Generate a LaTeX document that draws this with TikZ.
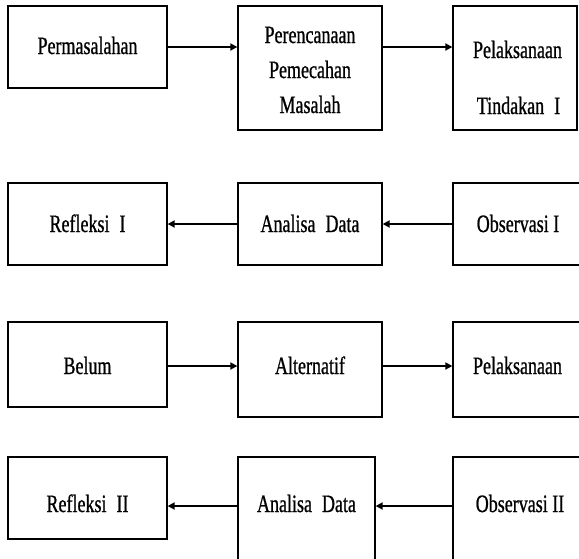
\documentclass[tikz,border=0pt]{standalone}
\usepackage{fontspec}
\setmainfont[FakeStretch=0.72,FakeBold=0.8]{Liberation Serif}
\usetikzlibrary{arrows.meta}
\begin{document}
\begin{tikzpicture}[x=1pt,y=-1pt,
  box/.style={draw=black, line width=1.3pt, rectangle, inner sep=0pt},
  lbl/.style={anchor=base, inner sep=0pt, font=\fontsize{25}{35}\selectfont},
  arr/.style={line width=2.2pt, -{Triangle[length=7pt,width=7pt]}}]
\useasboundingbox (0,0) rectangle (579,558);
\clip (0,0) rectangle (579,558);
% row 1
\node[box, minimum width=159, minimum height=82]  (A) at (87.5,47) {};
\node[box, minimum width=144, minimum height=124] (B) at (310,68) {};
\node[box, minimum width=124, minimum height=124] (C) at (515,68) {};
% row 2
\node[box, minimum width=159, minimum height=82] (D) at (87.5,224) {};
\node[box, minimum width=144, minimum height=82] (E) at (310,224) {};
\node[box, minimum width=147, minimum height=82] (F) at (526.5,224) {};
% row 3
\node[box, minimum width=159, minimum height=85] (G) at (87.5,364.5) {};
\node[box, minimum width=144, minimum height=95] (H) at (310,369.5) {};
\node[box, minimum width=147, minimum height=95] (I) at (526.5,369.5) {};
% row 4
\node[box, minimum width=159, minimum height=82]  (J) at (87.5,498) {};
\node[box, minimum width=137, minimum height=123] (K) at (306.5,518.5) {};
\node[box, minimum width=147, minimum height=123] (L) at (526.5,518.5) {};
% texts
\node[lbl] (tA) at (87.5,54) {Permasalahan};
\node[lbl] (tB1) at (310,43) {Perencanaan};
\node[lbl] (tB2) at (310,78) {Pemecahan};
\node[lbl] (tB3) at (310,113) {Masalah};
\node[lbl] (tC1) at (517.5,58) {Pelaksanaan};
\node[lbl] (tC2) at (518.5,114) {Tindakan\hspace{0.4em}I};
\node[lbl] (tD) at (87.5,232) {Refleksi\hspace{0.4em}I};
\node[lbl] (tE) at (310,232) {Analisa\hspace{0.4em}Data};
\node[lbl] (tF) at (518,232) {Observasi I};
\node[lbl] (tG) at (87.5,374) {Belum};
\node[lbl] (tH) at (310,374) {Alternatif};
\node[lbl] (tI) at (517.5,374) {Pelaksanaan};
\node[lbl] (tJ) at (87.5,512) {Refleksi\hspace{0.4em}II};
\node[lbl] (tK) at (306.5,512) {Analisa\hspace{0.4em}Data};
\node[lbl] (tL) at (520,512) {Observasi II};
% row coordinates
\coordinate (r3) at (0,366);
\coordinate (r4) at (0,506);
% arrows
\draw[arr] (A.east) -- (B.west |- A.east);
\draw[arr] (B.east |- A.east) -- (C.west |- A.east);
\draw[arr] (F.west) -- (E.east);
\draw[arr] (E.west) -- (D.east);
\draw[arr] (G.east |- r3) -- (H.west |- r3);
\draw[arr] (H.east |- r3) -- (I.west |- r3);
\draw[arr] (L.west |- r4) -- (K.east |- r4);
\draw[arr] (K.west |- r4) -- (J.east |- r4);
\end{tikzpicture}
\end{document}
